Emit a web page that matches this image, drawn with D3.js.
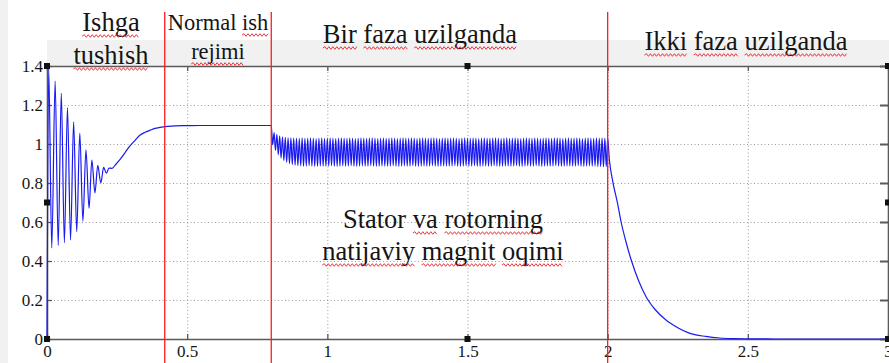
<!DOCTYPE html>
<html>
<head>
<meta charset="utf-8">
<script src="https://cdn.jsdelivr.net/npm/d3@7"></script>
<style>
  html, body { margin: 0; padding: 0; background: #fff; }
  svg { display: block; }
  text { font-family: "Times New Roman", "Liberation Serif", "DejaVu Serif", serif; fill: #151515; }
</style>
</head>
<body>
<svg id="chart" width="889" height="363"></svg>
<script>
// Resultant stator/rotor magnetic flux vs time (s)

// Start-up transient: decaying oscillation (peaks and troughs)
const startT = [0, 0.006, 0.017, 0.029, 0.040, 0.051, 0.062, 0.073, 0.084, 0.095, 0.106,
                0.117, 0.128, 0.139, 0.150, 0.160, 0.171, 0.181, 0.192, 0.202, 0.212, 0.221];
const startV = [0, 1.39, 0.467, 1.323, 0.48, 1.26, 0.494, 1.186, 0.508, 1.114, 0.55,
                1.055, 0.605, 0.97, 0.67, 0.918, 0.75, 0.89, 0.80, 0.88, 0.85, 0.877];

// Smooth rise to the normal operating level
const riseT = [0.232, 0.245, 0.26, 0.278, 0.296, 0.315, 0.331, 0.35, 0.367, 0.385, 0.403,
               0.43, 0.456, 0.5, 0.545, 0.6, 0.7, 0.8];
const riseV = [0.875, 0.895, 0.92, 0.955, 0.99, 1.02, 1.045, 1.06, 1.07, 1.08, 1.085,
               1.09, 1.093, 1.094, 1.095, 1.095, 1.095, 1.095];

// One phase open: pulsating flux, alternating troughs and peaks every 5 ms from 0.805 s
const bandStart = 0.805;
const bandStep = 0.005;
const bandV = [
  0.995,1.058, 0.968,1.049, 0.945,1.042, 0.928,1.037, 0.915,1.034, 0.906,1.032, 0.899,1.031, 0.894,1.030, 0.891,1.030, 0.889,1.029,
  0.888,1.031, 0.886,1.029, 0.887,1.030, 0.889,1.032, 0.887,1.030, 0.885,1.028, 0.886,1.030, 0.888,1.031, 0.887,1.029, 0.886,1.030,
  0.887,1.031, 0.889,1.030, 0.886,1.028, 0.885,1.030, 0.887,1.032, 0.888,1.030, 0.886,1.029, 0.887,1.031, 0.889,1.030, 0.886,1.028,
  0.885,1.030, 0.887,1.031, 0.888,1.030, 0.886,1.029, 0.887,1.031, 0.889,1.032, 0.887,1.030, 0.885,1.028, 0.886,1.030, 0.888,1.031,
  0.887,1.029, 0.886,1.030, 0.887,1.031, 0.889,1.030, 0.886,1.028, 0.885,1.030, 0.887,1.032, 0.888,1.030, 0.886,1.029, 0.887,1.031,
  0.889,1.030, 0.886,1.028, 0.885,1.030, 0.887,1.031, 0.888,1.030, 0.886,1.029, 0.887,1.031, 0.889,1.032, 0.887,1.030, 0.885,1.028,
  0.886,1.030, 0.888,1.031, 0.887,1.029, 0.886,1.030, 0.887,1.031, 0.889,1.030, 0.886,1.028, 0.885,1.030, 0.887,1.032, 0.888,1.030,
  0.886,1.029, 0.887,1.031, 0.889,1.030, 0.886,1.028, 0.885,1.030, 0.887,1.031, 0.888,1.030, 0.886,1.029, 0.887,1.031, 0.889,1.032,
  0.887,1.030, 0.885,1.028, 0.886,1.030, 0.888,1.031, 0.887,1.029, 0.886,1.030, 0.887,1.031, 0.889,1.030, 0.886,1.028, 0.885,1.030,
  0.887,1.032, 0.888,1.030, 0.886,1.029, 0.887,1.031, 0.889,1.030, 0.886,1.028, 0.885,1.030, 0.887,1.031, 0.888,1.030, 0.886,1.029,
  0.887,1.031, 0.889,1.032, 0.887,1.030, 0.885,1.028, 0.886,1.030, 0.888,1.031, 0.887,1.029, 0.886,1.030, 0.887,1.031, 0.889,1.030,
  0.886,1.028, 0.885,1.030, 0.887,1.032, 0.888,1.030, 0.886,1.029, 0.887,1.031, 0.884,1.030, 0.884,1.031, 0.883,1.030, 0.884,1.030
];

// Two phases open: flux decays to zero
const decayT = [2.006, 2.018, 2.036, 2.048, 2.065, 2.084, 2.11, 2.137, 2.17, 2.208, 2.25,
                2.291, 2.35, 2.4, 2.45, 2.5, 2.6, 2.8, 3.0];
const decayV = [0.92, 0.81, 0.69, 0.60, 0.50, 0.405, 0.30, 0.217, 0.15, 0.097, 0.058,
                0.03, 0.013, 0.005, 0.002, 0.001, 0, 0, 0];

// Regime boundaries (s)
const regimeBounds = [0.42, 0.8, 2.0];

// Axis ticks
const xTicks = [0, 0.5, 1, 1.5, 2, 2.5, 3];
const yTicks = [0, 0.2, 0.4, 0.6, 0.8, 1, 1.2, 1.4];

// Annotation text (lines; words flagged for the red wavy underline)
const regimeLabels = [
  { lines: [[["Ishga", true]], [["tushish", true]]], cx: 111, base: [31, 64], size: 26.5 },
  { lines: [[["Normal", false], ["ish", true]], [["rejimi", true]]], cx: 218, base: [30, 59], size: 22.5 },
  { lines: [[["Bir", true], ["faza", true], ["uzilganda", true]]], cx: 420, base: [43], size: 26.5 },
  { lines: [[["Ikki", true], ["faza", true], ["uzilganda", true]]], cx: 746, base: [50], size: 26.5 },
  { lines: [[["Stator", false], ["va", true], ["rotorning", true]],
            [["natijaviy", true], ["magnit", true], ["oqimi", true]]], cx: 443, base: [228, 260], size: 26.5 }
];

// ---------------------------------------------------------------
const W = 889, H = 363;
const m = { left: 47, right: 1, top: 66, bottom: 24 };
const serif = "'Times New Roman', 'Liberation Serif', serif";
const svg = d3.select("#chart");

const x = d3.scaleLinear().domain([0, 3]).range([m.left, W - m.right]);
const y = d3.scaleLinear().domain([0, 1.4]).range([H - m.bottom, m.top]);

// figure backdrop
svg.append("rect").attr("width", W).attr("height", H).attr("fill", "#f1f1f1");
svg.append("rect").attr("x", 8).attr("y", 0).attr("width", W - 8).attr("height", 40).attr("fill", "#fff");
svg.append("rect").attr("x", 8).attr("y", 40).attr("width", m.left - 8).attr("height", H - 40).attr("fill", "#fff");
svg.append("rect").attr("x", m.left).attr("y", y(0)).attr("width", W - m.left).attr("height", H - y(0)).attr("fill", "#fff");
svg.append("rect").attr("x", m.left).attr("y", m.top)
  .attr("width", x(3) - m.left).attr("height", y(0) - m.top).attr("fill", "#fff");

// dotted grid
const grid = svg.append("g").attr("class", "grid");
grid.append("g").attr("transform", `translate(0,${y(0)})`)
  .call(d3.axisBottom(x).tickValues(xTicks.filter(v => v > 0 && v < 3)).tickSize(-(y(0) - m.top)).tickFormat(""))
  .call(g => g.select(".domain").remove());
grid.append("g").attr("transform", `translate(${m.left},0)`)
  .call(d3.axisLeft(y).tickValues(yTicks.filter(v => v > 0 && v < 1.4)).tickSize(-(x(3) - m.left)).tickFormat(""))
  .call(g => g.select(".domain").remove());
grid.selectAll("line").attr("stroke", "#9a9a9a").attr("stroke-width", 1).attr("stroke-dasharray", "1,2.5");

// axes frame and inward ticks
const fmt = d => d3.format("~g")(d);
const axCol = "#5a5a5a";
const axBottom = svg.append("g").attr("transform", `translate(0,${y(0)})`)
  .call(d3.axisBottom(x).tickValues(xTicks).tickSizeInner(-5).tickSizeOuter(0).tickPadding(8).tickFormat(fmt));
const axTop = svg.append("g").attr("transform", `translate(0,${m.top})`)
  .call(d3.axisTop(x).tickValues(xTicks).tickSizeInner(-5).tickSizeOuter(0).tickFormat(""));
const axLeft = svg.append("g").attr("transform", `translate(${m.left},0)`)
  .call(d3.axisLeft(y).tickValues(yTicks).tickSizeInner(-5).tickSizeOuter(0).tickPadding(8).tickFormat(fmt));
const axRight = svg.append("g").attr("transform", `translate(${x(3)},0)`)
  .call(d3.axisRight(y).tickValues(yTicks).tickSizeInner(-8).tickSizeOuter(0).tickFormat(""));
[axBottom, axTop, axLeft, axRight].forEach(g => {
  g.select(".domain").attr("stroke", axCol).attr("stroke-width", 1.6);
  g.selectAll(".tick line").attr("stroke", axCol).attr("stroke-width", 1.3);
  g.selectAll("text").attr("font-family", serif).attr("font-size", 17).attr("fill", "#1a1a1a");
});
axRight.selectAll(".tick line").attr("stroke-width", 2);
axBottom.selectAll("text").attr("dy", "0.6em");
axLeft.selectAll("text").attr("dx", "4");

// flux curve
const pts = [];
startT.forEach((t, i) => pts.push([t, startV[i]]));
riseT.forEach((t, i) => pts.push([t, riseV[i]]));
bandV.forEach((v, i) => pts.push([bandStart + i * bandStep, v]));
decayT.forEach((t, i) => pts.push([t, decayV[i]]));

const line = d3.line().x(d => x(d[0])).y(d => y(d[1])).curve(d3.curveMonotoneX);
svg.append("path").datum(pts).attr("d", line)
  .attr("fill", "none").attr("stroke", "#1a1af0").attr("stroke-width", 1.2);

// regime boundaries
svg.selectAll(".bound").data(regimeBounds).enter().append("line")
  .attr("x1", d => x(d)).attr("x2", d => x(d)).attr("y1", 12).attr("y2", H)
  .attr("stroke", "#ff1a1a").attr("stroke-width", 1.3);

// selection handles
const handles = [[0, 1.4], [1.5, 1.4], [3, 1.4], [0, 0.7], [3, 0.7], [0, 0], [1.5, 0], [3, 0]];
svg.selectAll(".handle").data(handles).enter().append("rect")
  .attr("x", d => x(d[0]) - 3).attr("y", d => y(d[1]) - 3).attr("width", 6).attr("height", 6)
  .attr("fill", "#111");

// annotations with wavy underlines
function wave(x0, x1, yy) {
  let p = `M${x0},${yy}`;
  let up = true;
  for (let xx = x0 + 2; xx <= x1; xx += 2) {
    p += `L${xx},${yy + (up ? -1.3 : 1.3)}`;
    up = !up;
  }
  return p;
}
regimeLabels.forEach(lab => {
  lab.lines.forEach((words, li) => {
    const t = svg.append("text").attr("x", lab.cx).attr("y", lab.base[li])
      .attr("text-anchor", "middle").attr("font-size", lab.size).attr("font-family", serif);
    const spans = words.map(([w, flag], wi) => {
      const s = t.append("tspan").text((wi > 0 ? " " : "") + w);
      return [s, w, flag, wi];
    });
    spans.forEach(([s, w, flag, wi]) => {
      if (!flag) return;
      const bb = s.node().getBBox();
      const spaceW = wi > 0 ? lab.size * 0.25 : 0;
      svg.append("path").attr("d", wave(bb.x + spaceW, bb.x + bb.width, lab.base[li] + 5))
        .attr("fill", "none").attr("stroke", "#e8202a").attr("stroke-width", 0.9);
    });
  });
});
</script>
</body>
</html>
